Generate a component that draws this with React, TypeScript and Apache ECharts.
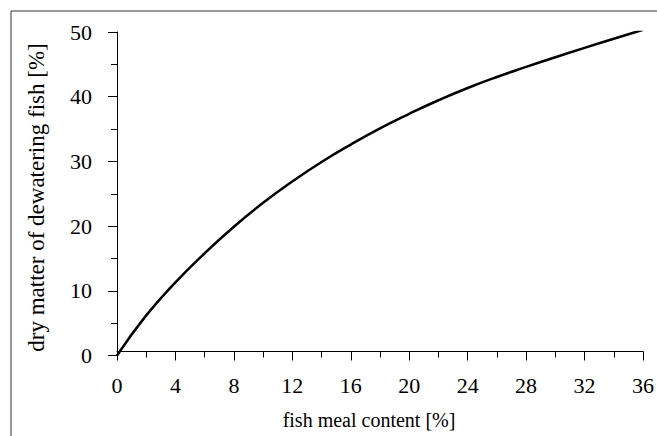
import React, { useEffect, useRef } from "react";
import * as echarts from "echarts";

const xValues = [0, 2, 4, 6, 8, 10, 12, 14, 16, 18, 20, 22, 24, 26, 28, 30, 32, 34, 36];
const yValues = [0, 6.2, 11.3, 15.8, 19.9, 23.6, 26.9, 29.9, 32.6, 35.1, 37.35, 39.45, 41.35, 43.05, 44.6, 46.1, 47.55, 48.95, 50.35];
const xAxisTitle = "fish meal content [%]";
const yAxisTitle = "dry matter of dewatering fish [%]";

const FONT = "Liberation Serif, Times New Roman, serif";

export default function App() {
  const ref = useRef<HTMLDivElement>(null);
  useEffect(() => {
    if (!ref.current) return;
    const chart = echarts.init(ref.current, undefined, { renderer: "svg" });
    const data = xValues.map((x, i) => [x, yValues[i]]);
    chart.setOption({
      animation: false,
      backgroundColor: "#fff",
      grid: { left: 117, right: 12, top: 32, bottom: 80.5, containLabel: false },
      xAxis: {
        type: "value",
        min: 0,
        max: 36,
        interval: 4,
        offset: -4,
        axisLine: { show: true, lineStyle: { color: "#000", width: 1 } },
        axisTick: { show: true, inside: false, length: 9, lineStyle: { color: "#000" } },
        minorTick: { show: true, splitNumber: 2, length: 6, lineStyle: { color: "#000" } },
        splitLine: { show: false },
        axisLabel: { color: "#000", fontFamily: FONT, fontSize: 22, margin: 23 },
      },
      yAxis: {
        type: "value",
        min: 0,
        max: 50,
        interval: 10,
        offset: 2,
        axisLine: { show: true, lineStyle: { color: "#000", width: 1 } },
        axisTick: { show: true, inside: false, length: 9, lineStyle: { color: "#000" } },
        minorTick: { show: true, splitNumber: 2, length: 6, lineStyle: { color: "#000" } },
        splitLine: { show: false },
        axisLabel: { color: "#000", fontFamily: FONT, fontSize: 22, margin: 23 },
      },
      graphic: [
        { type: "line", shape: { x1: 11, y1: 11, x2: 657, y2: 11 }, style: { stroke: "#333", lineWidth: 1 } },
        { type: "line", shape: { x1: 11, y1: 11, x2: 11, y2: 436 }, style: { stroke: "#333", lineWidth: 1 } },
        {
          type: "text",
          x: 369,
          y: 420,
          style: { text: xAxisTitle, fontFamily: FONT, fontSize: 20, fill: "#000", align: "center", verticalAlign: "middle" },
        },
        {
          type: "text",
          x: 36,
          y: 197.5,
          rotation: Math.PI / 2,
          style: { text: yAxisTitle, fontFamily: FONT, fontSize: 23, fill: "#000", align: "center", verticalAlign: "middle" },
        },
      ],
      series: [
        {
          type: "line",
          data,
          smooth: true,
          showSymbol: false,
          lineStyle: { color: "#000", width: 2.5 },
        },
      ],
    });
    return () => chart.dispose();
  }, []);
  return (
    <div
      ref={ref}
      style={{ position: "absolute", left: 0, top: 0, width: 657, height: 436, background: "#fff" }}
    />
  );
}
